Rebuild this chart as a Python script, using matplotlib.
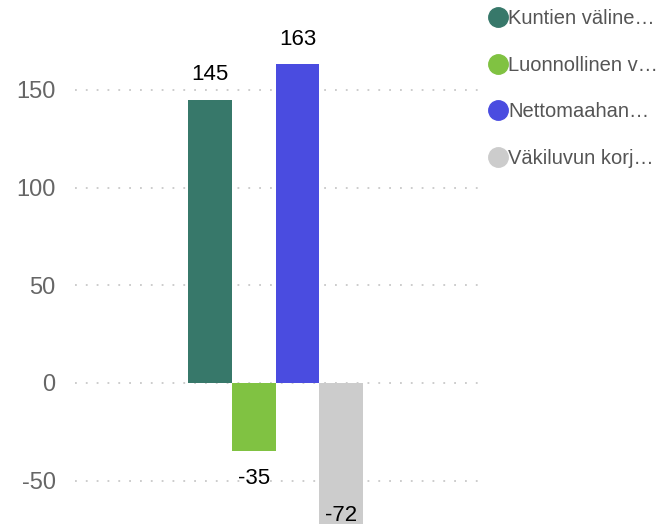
import matplotlib.pyplot as plt
from matplotlib.lines import Line2D

plt.rcParams['font.family'] = ['Liberation Sans', 'DejaVu Sans']
plt.rcParams['axes.unicode_minus'] = False

sarjat = ["Kuntien väline…", "Luonnollinen v…", "Nettomaahan…", "Väkiluvun korj…"]
arvot = [145, -35, 163, -72]
varit = ["#37786a", "#80c242", "#4a4ce0", "#cccccc"]
yticks = [-50, 0, 50, 100, 150]

fig = plt.figure(figsize=(6.7, 5.26), dpi=100)
ax = fig.add_axes([75 / 670, 0, 403 / 670, 1])

x = list(range(len(arvot)))
ax.bar(x, arvot, width=1.0, color=varit, zorder=2)

ylo, yhi = -73.2, 196
ax.set_ylim(ylo, yhi)
ax.set_xlim(-3.09, 6.13)

# arvolaput palkkien päihin
for xi, v in zip(x, arvot):
    if v >= 0:
        y = v + 13
    else:
        y = max(v - 14, ylo + 5.5)
    ax.text(xi, y, str(v), ha="center", va="center", fontsize=16, color="black", zorder=3)

ax.set_yticks(yticks)
ax.set_xticks([])
ax.tick_params(axis="y", length=0, pad=14, labelsize=17, labelcolor="#666666")
ax.grid(axis="y", color="#c8c8c8", linestyle=(0, (1, 5)), linewidth=1.3, zorder=0)
for s in ax.spines.values():
    s.set_visible(False)

kahvat = [Line2D([], [], marker="o", linestyle="none", markersize=14,
                 markerfacecolor=c, markeredgecolor=c) for c in varit]
fig.legend(kahvat, sarjat, loc="upper left", bbox_to_anchor=(475 / 670, 1.012),
           frameon=False, fontsize=14.5, labelcolor="#555555",
           handlelength=0.8, handletextpad=0.1, labelspacing=1.38, borderpad=0.25)

fig.savefig("out.png", dpi=100)
